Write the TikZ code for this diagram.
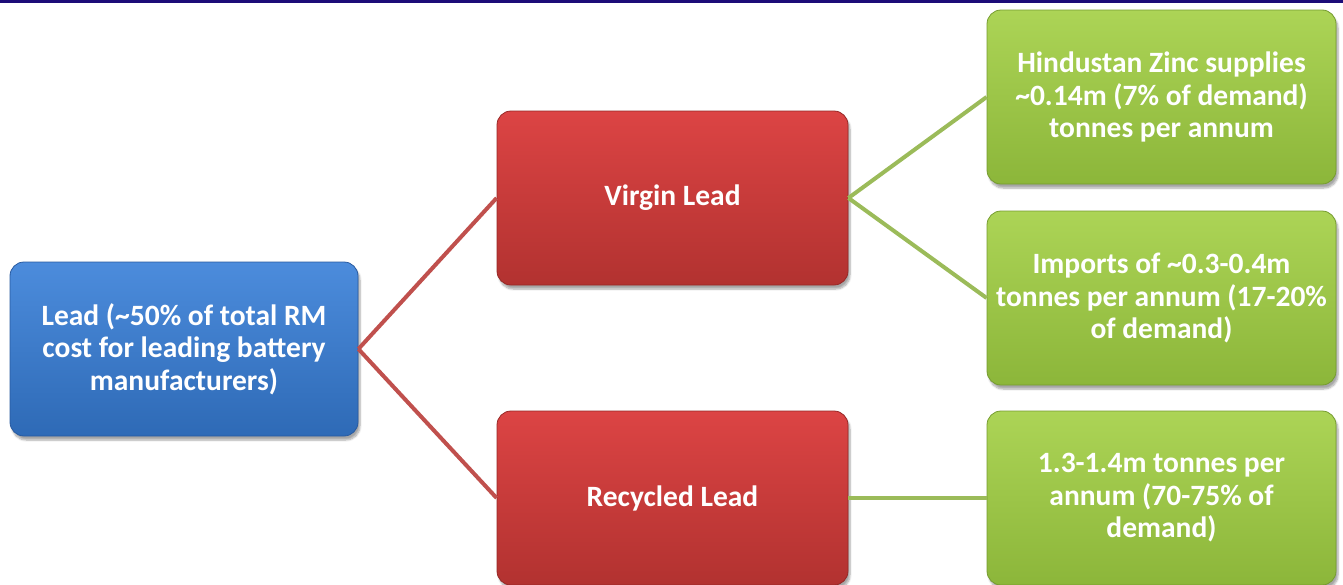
\documentclass[tikz,border=0pt]{standalone}
\usepackage{fontspec}
\setmainfont{Carlito}
\usetikzlibrary{shadows.blur}
\definecolor{navy}{RGB}{28,12,120}
\definecolor{bluetop}{RGB}{76,140,220}
\definecolor{bluebot}{RGB}{46,106,182}
\definecolor{blueedge}{RGB}{40,90,160}
\definecolor{redtop}{RGB}{220,68,68}
\definecolor{redbot}{RGB}{178,50,48}
\definecolor{rededge}{RGB}{150,40,38}
\definecolor{greentop}{RGB}{172,212,86}
\definecolor{greenbot}{RGB}{140,182,58}
\definecolor{greenedge}{RGB}{118,156,48}
\definecolor{redline}{RGB}{192,80,77}
\definecolor{greenline}{RGB}{155,187,89}
\tikzset{
  box/.style={rectangle, rounded corners=14pt, minimum height=174pt,
    text=white, font=\bfseries\fontsize{29.5}{32.5}\selectfont, align=center,
    line width=0.8pt, blur shadow={shadow blur steps=6, shadow xshift=2pt, shadow yshift=-4pt, shadow opacity=35}},
  bluebox/.style={box, draw=blueedge, top color=bluetop, bottom color=bluebot, minimum width=348pt},
  redbox/.style={box, draw=rededge, top color=redtop, bottom color=redbot, minimum width=351pt},
  greenbox/.style={box, draw=greenedge, top color=greentop, bottom color=greenbot, minimum width=349pt},
  redconn/.style={draw=redline, line width=4pt},
  greenconn/.style={draw=greenline, line width=4pt},
}
\begin{document}
\begin{tikzpicture}[x=1pt,y=-1pt]
\useasboundingbox (0,0) rectangle (1343,584);
\fill[navy] (0,0) rectangle (1343,2.5);
\node[bluebox] (lead) at (184,349) {Lead (\textasciitilde50\% of total RM\\cost for leading battery\\manufacturers)};
\node[redbox] (virgin) at (672.5,198) {Virgin Lead};
\node[redbox] (recycled) at (672.5,498) {Recycled Lead};
\node[greenbox] (hz) at (1161.5,97) {Hindustan Zinc supplies\\\textasciitilde0.14m (7\% of demand)\\tonnes per annum};
\node[greenbox] (imp) at (1161.5,298) {Imports of \textasciitilde0.3-0.4m\\tonnes per annum (17-20\%\\of demand)};
\node[greenbox] (rec) at (1161.5,498) {1.3-1.4m tonnes per\\annum (70-75\% of\\demand)};
\draw[redconn] (lead.east) -- (virgin.west);
\draw[redconn] (lead.east) -- (recycled.west);
\draw[greenconn] (virgin.east) -- (hz.west);
\draw[greenconn] (virgin.east) -- (imp.west);
\draw[greenconn] (recycled.east) -- (rec.west);
\end{tikzpicture}
\end{document}
